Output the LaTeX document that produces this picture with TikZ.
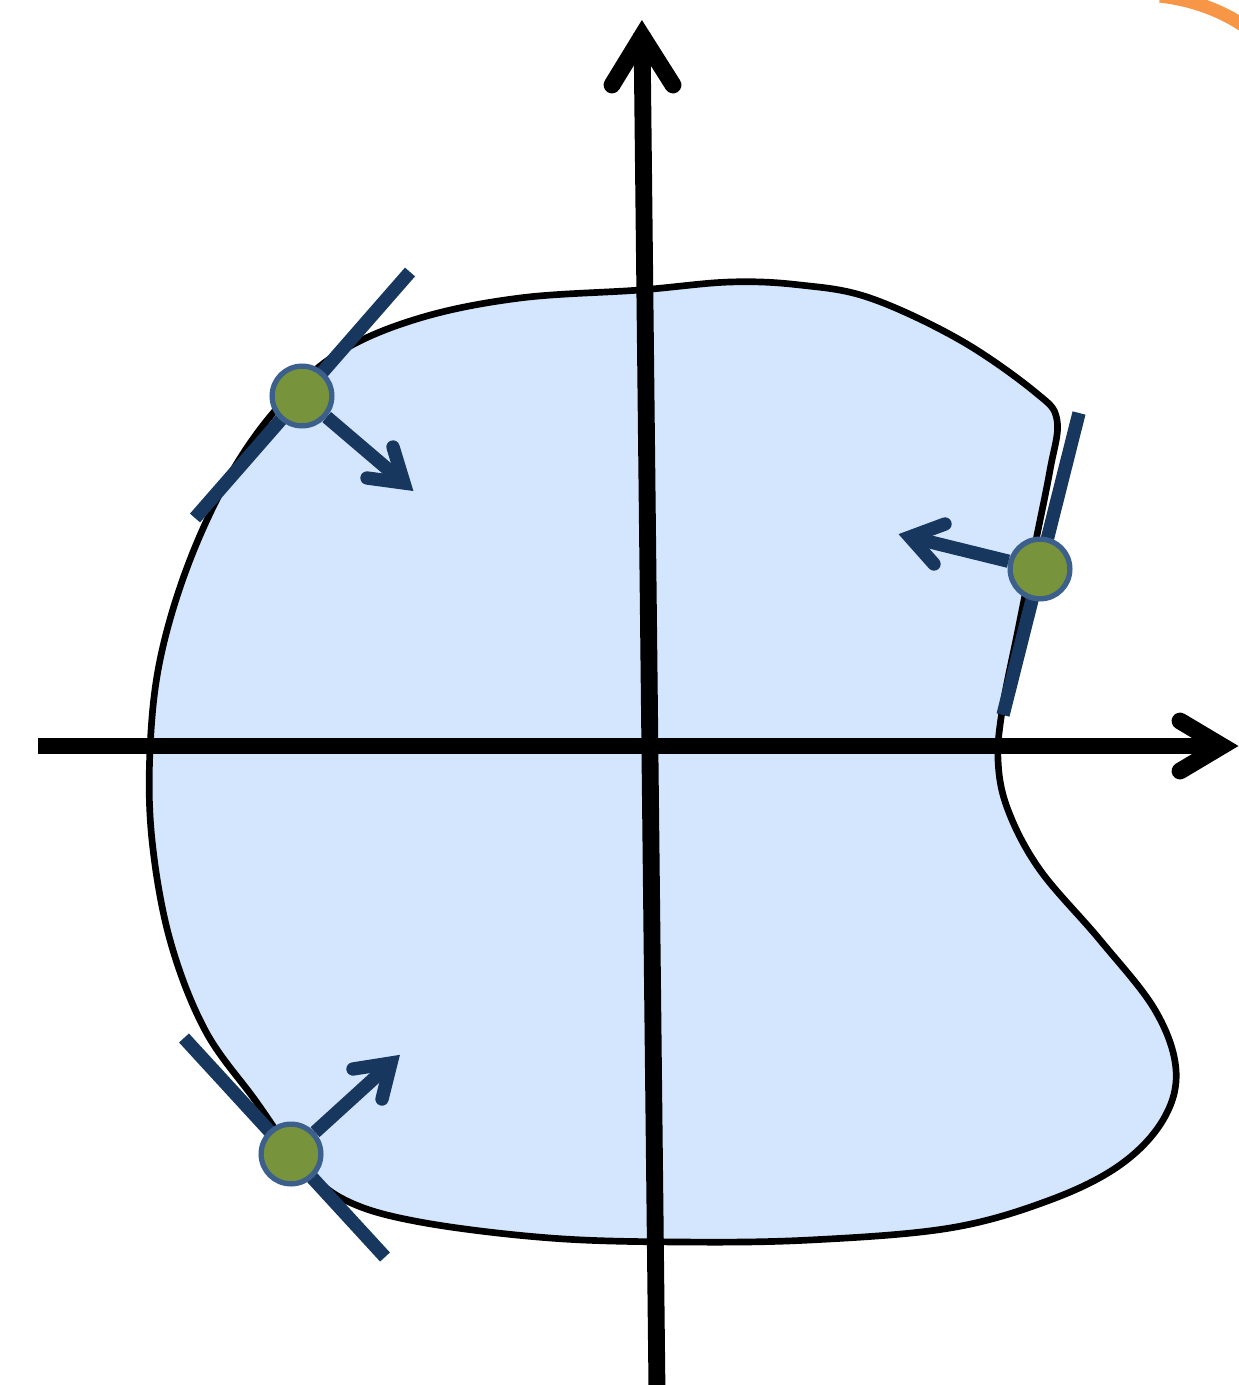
\documentclass[tikz,border=0pt]{standalone}
\usetikzlibrary{calc}
\definecolor{blobfill}{HTML}{D4E6FD}
\definecolor{navy}{HTML}{17375E}
\definecolor{dotgreen}{HTML}{77933C}
\definecolor{dotrim}{HTML}{3C5F8C}
\definecolor{orng}{HTML}{F79646}
\begin{document}
\begin{tikzpicture}[x=0.02cm,y=-0.02cm,
  axis/.style={line width=9.6pt,black,line cap=round,line join=miter},
  blob/.style={line width=3.8pt,black,fill=blobfill},
  tang/.style={line width=7.6pt,navy},
  vec/.style={line width=7.6pt,navy,line cap=round,line join=miter},
  dot/.style={circle,fill=dotgreen,draw=dotrim,line width=3pt,minimum size=34pt,inner sep=0pt}]
\useasboundingbox (0,0) rectangle (1239,1385);
\begin{scope}
\clip (0,0) rectangle (1239,1385);
\draw[orng,line width=7.5pt] (1160,-4) .. controls (1195,0) and (1225,12) .. (1250,30);
\end{scope}
% blob
\draw[blob] plot[smooth cycle,tension=0.6] coordinates {
 (640,290) (730,282) (800,285) (870,298) (960,340) (1035,392) (1057,420)
 (1050,470) (1035,545) (1018,630) (1003,705) (998,760) (1008,810) (1040,870)
 (1100,940) (1155,1010) (1176,1070) (1163,1120) (1120,1165) (1050,1200)
 (950,1228) (810,1240) (680,1242) (550,1238) (420,1222) (345,1200) (300,1162)
 (255,1100) (205,1030) (170,940) (152,840) (150,750) (160,660) (188,565)
 (230,475) (280,405) (340,352) (420,318) (520,298)};
% axes
\coordinate (xs) at (38,746);
\coordinate (xt) at (1222,746);
\coordinate (ys) at (657,1392);
\coordinate (yt) at (642,36);
\draw[axis,line cap=butt] (xs) -- (1225,746);
\draw[axis] (1180,721) -- (xt) -- (1180,771);
\draw[axis,line cap=butt] (ys) -- (642,33);
\draw[axis] (612,85) -- (yt) -- (673,85);
% tangent lines
\coordinate (t1a) at (195,518); \coordinate (t1b) at (410,272);
\coordinate (t2a) at (1003,715); \coordinate (t2b) at (1079,413);
\coordinate (t3a) at (184,1038); \coordinate (t3b) at (385,1257);
\draw[tang] (t1a) -- (t1b);
\draw[tang] (t2a) -- (t2b);
\draw[tang] (t3a) -- (t3b);
% dots
\node[dot] (p1) at (302,396) {};
\node[dot] (p2) at (1040,569) {};
\node[dot] (p3) at (291,1154) {};
% normal vectors
\coordinate (v1) at (404,483);
\coordinate (v2) at (910,537);
\coordinate (v3) at (391,1063);
\draw[vec,line cap=butt] (p1) -- (v1);
\draw[vec] (367,478) -- (v1) -- (393,447);
\draw[vec,line cap=butt] (p2) -- (v2);
\draw[vec] (945,524) -- (v2) -- (934,564);
\draw[vec,line cap=butt] (p3) -- (v3);
\draw[vec] (353,1069) -- (v3) -- (382,1099);
\end{tikzpicture}
\end{document}
